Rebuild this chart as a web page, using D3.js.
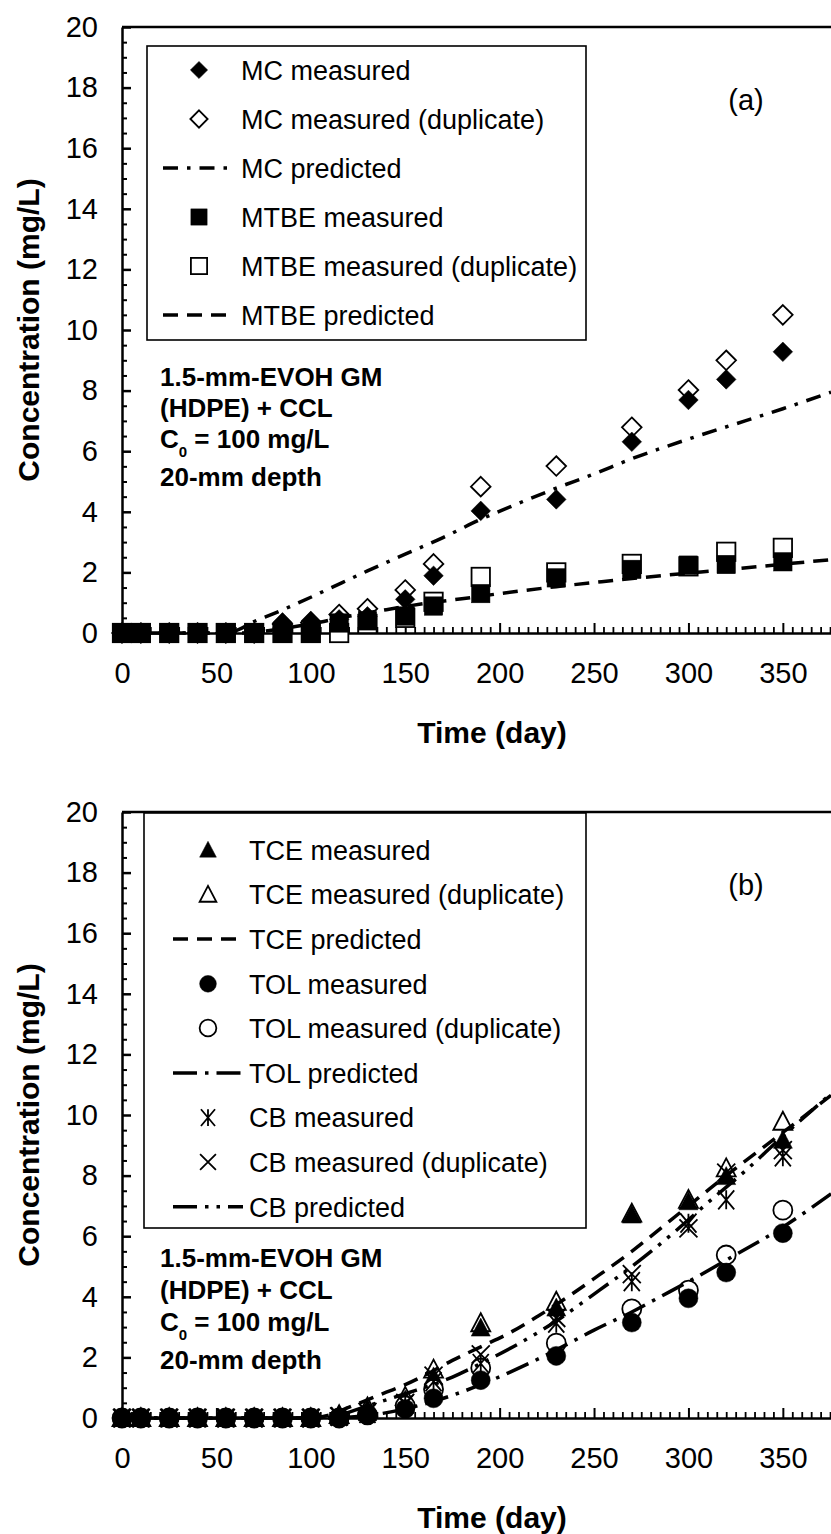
<!DOCTYPE html>
<html><head><meta charset="utf-8">
<script src="https://cdn.jsdelivr.net/npm/d3@7"></script>
<style>body{margin:0;background:#fff} svg{display:block}</style>
</head><body>
<script>
// ---------- DATA ----------
const days = [0,10,25,40,55,70,85,100,115,130,150,165,190,230,270,300,320,350];
const xTickLabels = [0,50,100,150,200,250,300,350];
const yTickLabels = [0,2,4,6,8,10,12,14,16,18,20];

// panel (a)
const mcMeasured    = [0,0,0,0,0,0,0.35,0.4,0.45,0.55,1.11,1.89,4.03,4.41,6.31,7.69,8.37,9.28];
const mcDuplicate   = [0,0,0,0,0,0,0.3,0.35,0.61,0.8,1.42,2.28,4.83,5.51,6.79,8.02,9.0,10.5];
const mtbeMeasured  = [0,0,0,0,0,0,0,0,0.33,0.4,0.56,0.89,1.3,1.82,2.1,2.24,2.26,2.35];
const mtbeDuplicate = [0,0,0,0,0,0,0,0,0,0.3,0.5,1.03,1.85,2.0,2.28,2.2,2.68,2.81];
const mcPredDays    = [0,55,62,70,80,90,100,110,130,150,170,190,210,230,250,270,300,330,350,375.5];
const mcPredicted   = [0,0,0.12,0.38,0.63,0.9,1.18,1.47,2.05,2.6,3.15,3.75,4.28,4.78,5.25,5.75,6.4,7.0,7.4,7.95];
const mtbePredDays  = [0,60,70,80,100,120,140,160,180,200,230,260,290,320,350,375.5];
const mtbePredicted = [0,0,0.02,0.1,0.3,0.55,0.77,0.97,1.13,1.3,1.53,1.73,1.92,2.09,2.27,2.42];

// panel (b)
const tceMeasured   = [0,0,0,0,0,0,0,0,0.1,0.3,0.6,1.36,2.97,3.63,6.7,7.14,7.97,9.17];
const tceDuplicate  = [0,0,0,0,0,0,0,0,0.1,0.35,0.7,1.6,3.13,3.84,6.75,7.2,8.24,9.78];
const tolMeasured   = [0,0,0,0,0,0,0,0,0,0.1,0.3,0.65,1.25,2.05,3.15,3.95,4.8,6.1];
const tolDuplicate  = [0,0,0,0,0,0,0,0,0,0.1,0.4,0.95,1.65,2.47,3.6,4.22,5.38,6.86];
const cbMeasured    = [0,0,0,0,0,0,0,0,0.05,0.15,0.45,1.2,1.8,3.13,4.5,6.43,7.2,8.62];
const cbDuplicate   = [0,0,0,0,0,0,0,0,0.05,0.2,0.5,1.4,2.1,3.3,4.75,6.26,8.1,8.84];
const tcePredDays   = [0,100,110,120,130,140,150,160,175,190,205,220,235,250,270,290,306,320,340,360,375.5];
const tcePredicted  = [0,0,0.1,0.35,0.6,0.85,1.1,1.4,1.9,2.35,2.8,3.35,3.95,4.6,5.5,6.5,7.3,8.0,8.95,9.9,10.65];
const tolPredDays   = [0,110,130,150,165,175,190,205,227,250,270,285,300,324,350,375.5];
const tolPredicted  = [0,0,0.08,0.3,0.55,0.75,1.1,1.5,2.15,2.9,3.5,4.0,4.5,5.35,6.3,7.4];
const cbPredDays    = [0,100,115,130,150,175,190,210,230,248,270,290,312,330,350,375.5];
const cbPredicted   = [0,0,0.1,0.4,0.8,1.35,1.8,2.45,3.2,4.0,5.0,6.0,7.2,8.15,9.3,10.7];

const legendA = ["MC measured","MC measured (duplicate)","MC predicted","MTBE measured","MTBE measured (duplicate)","MTBE predicted"];
const legendB = ["TCE measured","TCE measured (duplicate)","TCE predicted","TOL measured","TOL measured (duplicate)","TOL predicted","CB measured","CB measured (duplicate)","CB predicted"];

// ---------- DRAW ----------
const W = 831, H = 1534;
const FONT = "'Liberation Sans', Arial, Helvetica, sans-serif";
const svg = d3.select("body").append("svg").attr("width", W).attr("height", H)
  .style("font-family", FONT);

const x = d3.scaleLinear().domain([0, 375.5]).range([122, 831]);

const DASH = {
  dashdot: "15,9,3.5,9",
  dash: "15,9",
  longdashdot: "24,8,3.5,8",
  longdashdotdot: "24,8,3.5,8,3.5,8"
};

function drawMarker(g, type, cx, cy, sc) {
  sc = sc || 1;
  const S = 1.8;
  if (type === "diamondFilled" || type === "diamondOpen") {
    const w = 9.8 * sc, h = 9.8 * sc;
    g.append("path").attr("d", `M${cx},${cy-h}L${cx+w},${cy}L${cx},${cy+h}L${cx-w},${cy}Z`)
      .attr("fill", type === "diamondFilled" ? "#000" : "#fff")
      .attr("stroke", "#000").attr("stroke-width", type === "diamondFilled" ? 0.5 : S);
  } else if (type === "squareFilled" || type === "squareOpen") {
    const s = 9.2 * sc;
    g.append("rect").attr("x", cx - s).attr("y", cy - s).attr("width", 2 * s).attr("height", 2 * s)
      .attr("fill", type === "squareFilled" ? "#000" : "#fff")
      .attr("stroke", "#000").attr("stroke-width", type === "squareFilled" ? 0.5 : S);
  } else if (type === "triFilled" || type === "triOpen") {
    const w = 9.5 * sc, h = 18 * sc;
    g.append("path").attr("d", `M${cx},${cy-h*0.55}L${cx+w},${cy+h*0.45}L${cx-w},${cy+h*0.45}Z`)
      .attr("fill", type === "triFilled" ? "#000" : "#fff")
      .attr("stroke", "#000").attr("stroke-width", type === "triFilled" ? 0.5 : S);
  } else if (type === "circleFilled" || type === "circleOpen") {
    g.append("circle").attr("cx", cx).attr("cy", cy).attr("r", 9.5 * sc)
      .attr("fill", type === "circleFilled" ? "#000" : "#fff")
      .attr("stroke", "#000").attr("stroke-width", type === "circleFilled" ? 0.5 : S);
  } else if (type === "asterisk") {
    const a = 8 * sc, b = 9.5 * sc;
    const p = `M${cx-a},${cy-b}L${cx+a},${cy+b}M${cx+a},${cy-b}L${cx-a},${cy+b}M${cx},${cy-b}L${cx},${cy+b}`;
    g.append("path").attr("d", p).attr("stroke", "#000").attr("stroke-width", 1.8).attr("fill", "none");
  } else if (type === "cross") {
    const a = 9 * sc;
    const p = `M${cx-a},${cy-a}L${cx+a},${cy+a}M${cx+a},${cy-a}L${cx-a},${cy+a}`;
    g.append("path").attr("d", p).attr("stroke", "#000").attr("stroke-width", 1.8).attr("fill", "none");
  }
}

function panel(offset, series, lines, legendItems, legendBox, legendRows, legendXs, annY, tag) {
  const y = d3.scaleLinear().domain([0, 20]).range([633 + offset, 27 + offset]);
  const g = svg.append("g");

  // top border of plot area
  g.append("line").attr("x1", x(0)).attr("x2", W).attr("y1", y(20)).attr("y2", y(20))
    .attr("stroke", "#000").attr("stroke-width", 2.5);

  // y axis major
  const yAx = g.append("g").attr("transform", `translate(${x(0)},0)`)
    .call(d3.axisLeft(y).tickValues(yTickLabels).tickSizeInner(-9).tickSizeOuter(0).tickPadding(24));
  yAx.select(".domain").attr("stroke-width", 2.5);
  yAx.selectAll(".tick line").attr("stroke-width", 2.5);
  yAx.selectAll("text").style("font-size", "29px").style("font-family", FONT).attr("fill", "#000");
  // y minor
  const yMinor = d3.range(0, 20.001, 0.5).filter(v => Math.abs(v / 2 - Math.round(v / 2)) > 1e-6);
  const yMi = g.append("g").attr("transform", `translate(${x(0)},0)`)
    .call(d3.axisLeft(y).tickValues(yMinor).tickSizeInner(-5).tickSizeOuter(0).tickFormat(""));
  yMi.select(".domain").remove();
  yMi.selectAll(".tick line").attr("stroke-width", 2);

  // x axis major
  const xAx = g.append("g").attr("transform", `translate(0,${y(0)})`)
    .call(d3.axisBottom(x).tickValues(xTickLabels).tickSizeInner(-10).tickSizeOuter(0).tickPadding(29));
  xAx.select(".domain").attr("stroke-width", 2.5);
  xAx.selectAll(".tick line").attr("stroke-width", 2);
  xAx.selectAll("text").style("font-size", "29px").style("font-family", FONT).attr("fill", "#000");
  const xMinor = d3.range(0, 376, 5).filter(v => v % 50 !== 0);
  const xMi = g.append("g").attr("transform", `translate(0,${y(0)})`)
    .call(d3.axisBottom(x).tickValues(xMinor).tickSizeInner(-6).tickSizeOuter(0).tickFormat(""));
  xMi.select(".domain").remove();
  xMi.selectAll(".tick line").attr("stroke-width", 1.8);

  // axis titles
  g.append("text").attr("x", 492).attr("y", 743 + offset).attr("text-anchor", "middle")
    .style("font-size", "30px").style("font-weight", "bold").text("Time (day)");
  g.append("text").attr("transform", `translate(28,${(y(0) + y(20)) / 2}) rotate(-90)`)
    .attr("text-anchor", "middle").attr("dy", "0.36em")
    .style("font-size", "30px").style("font-weight", "bold").text("Concentration (mg/L)");

  // panel tag
  g.append("text").attr("x", 746).attr("y", 100 + offset).attr("dy", "0.36em").attr("text-anchor", "middle")
    .style("font-size", "29px").text(tag);

  // measured markers
  series.forEach(s => {
    days.forEach((d, i) => drawMarker(g, s.type, x(d), y(s.values[i]), 1));
  });

  // predicted lines
  lines.forEach(l => {
    const pts = l.days.map((d, i) => [d, l.values[i]]);
    g.append("path").datum(pts)
      .attr("d", d3.line().x(p => x(p[0])).y(p => y(p[1])).curve(d3.curveMonotoneX))
      .attr("fill", "none").attr("stroke", "#000").attr("stroke-width", 3.5)
      .attr("stroke-dasharray", DASH[l.dash]);
  });

  // legend
  const lg = g.append("g");
  lg.append("rect").attr("x", legendBox[0]).attr("y", legendBox[1] + offset)
    .attr("width", legendBox[2] - legendBox[0]).attr("height", legendBox[3] - legendBox[1])
    .attr("fill", "#fff").attr("stroke", "#000").attr("stroke-width", 1.6);
  legendItems.forEach((it, i) => {
    const ry = legendRows[i] + offset;
    if (it.dash) {
      lg.append("line").attr("x1", legendXs.l1).attr("x2", legendXs.l2).attr("y1", ry).attr("y2", ry)
        .attr("stroke", "#000").attr("stroke-width", 3.5).attr("stroke-dasharray", DASH[it.dash]);
    } else {
      drawMarker(lg, it.type, legendXs.m, ry, 0.88);
    }
    lg.append("text").attr("x", legendXs.t).attr("y", ry).attr("dy", "0.36em")
      .style("font-size", "27px").text(it.label);
  });

  // annotation
  const an = g.append("g").style("font-size", "26px").style("font-weight", "bold");
  an.append("text").attr("x", 160).attr("y", annY[0] + offset).attr("dy", "0.36em").text("1.5-mm-EVOH GM");
  an.append("text").attr("x", 160).attr("y", annY[1] + offset).attr("dy", "0.36em").text("(HDPE) + CCL");
  const c0 = an.append("text").attr("x", 160).attr("y", annY[2] + offset).attr("dy", "0.36em");
  c0.append("tspan").text("C");
  c0.append("tspan").attr("dy", 9).style("font-size", "15px").text("0");
  c0.append("tspan").attr("dy", -9).text(" = 100 mg/L");
  an.append("text").attr("x", 160).attr("y", annY[3] + offset).attr("dy", "0.36em").text("20-mm depth");
}

// Panel (a)
panel(0,
  [
    {type: "diamondOpen", values: mcDuplicate},
    {type: "diamondFilled", values: mcMeasured},
    {type: "squareOpen", values: mtbeDuplicate},
    {type: "squareFilled", values: mtbeMeasured}
  ],
  [
    {days: mcPredDays, values: mcPredicted, dash: "dashdot"},
    {days: mtbePredDays, values: mtbePredicted, dash: "dash"}
  ],
  [
    {label: legendA[0], type: "diamondFilled"},
    {label: legendA[1], type: "diamondOpen"},
    {label: legendA[2], dash: "dashdot"},
    {label: legendA[3], type: "squareFilled"},
    {label: legendA[4], type: "squareOpen"},
    {label: legendA[5], dash: "dash"}
  ],
  [147, 46, 586, 340],
  [70, 119, 168, 217, 266, 315],
  {m: 199, t: 241, l1: 163, l2: 233},
  [377, 408, 439, 477],
  "(a)"
);

// Panel (b)
panel(785,
  [
    {type: "triOpen", values: tceDuplicate},
    {type: "triFilled", values: tceMeasured},
    {type: "circleOpen", values: tolDuplicate},
    {type: "circleFilled", values: tolMeasured},
    {type: "cross", values: cbDuplicate},
    {type: "asterisk", values: cbMeasured}
  ],
  [
    {days: tcePredDays, values: tcePredicted, dash: "dash"},
    {days: tolPredDays, values: tolPredicted, dash: "longdashdot"},
    {days: cbPredDays, values: cbPredicted, dash: "longdashdotdot"}
  ],
  [
    {label: legendB[0], type: "triFilled"},
    {label: legendB[1], type: "triOpen"},
    {label: legendB[2], dash: "dash"},
    {label: legendB[3], type: "circleFilled"},
    {label: legendB[4], type: "circleOpen"},
    {label: legendB[5], dash: "longdashdot"},
    {label: legendB[6], type: "asterisk"},
    {label: legendB[7], type: "cross"},
    {label: legendB[8], dash: "longdashdotdot"}
  ],
  [144, 28, 586, 443],
  [65, 109.6, 154, 198.8, 243, 288, 332.6, 377, 421.8],
  {m: 208, t: 249, l1: 173, l2: 243},
  [473, 505, 537, 575],
  "(b)"
);
</script>
</body></html>
